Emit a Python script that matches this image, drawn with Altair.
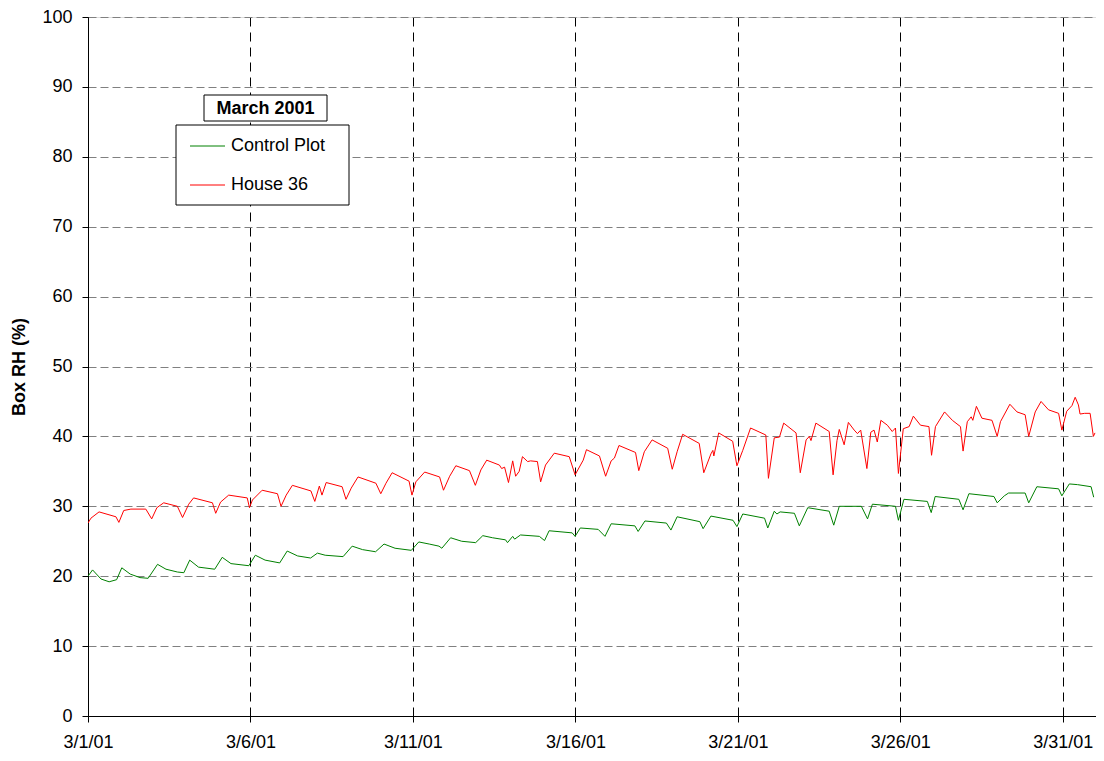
import altair as alt
import pandas as pd

# Day offsets from 3/1/01 00:00 and RH values (%)
green_day = [0.00, 0.14, 0.40, 0.65, 0.88, 1.04, 1.30, 1.60, 1.85, 2.14, 2.40, 2.75, 2.95,
             3.13, 3.40, 3.90, 4.13, 4.40, 4.95, 5.15, 5.45, 5.90, 6.13, 6.45, 6.85, 7.06,
             7.30, 7.85, 8.13, 8.45, 8.85, 9.11, 9.45, 9.95, 10.18, 10.50, 10.80, 10.89,
             11.16, 11.50, 11.93, 12.15, 12.45, 12.85, 12.91, 13.07, 13.13, 13.31, 13.89,
             14.05, 14.19, 14.90, 14.99, 15.15, 15.70, 15.91, 16.10, 16.83, 16.93, 17.14,
             17.80, 17.94, 18.13, 18.83, 18.93, 19.17, 19.85, 19.97, 20.15, 20.82, 20.92,
             21.12, 21.20, 21.30, 21.74, 21.89, 22.15, 22.81, 22.95, 23.12, 23.80, 23.99,
             24.14, 24.85, 24.94, 25.11, 25.83, 25.95, 26.07, 26.80, 26.93, 27.11, 27.88,
             27.98, 28.20, 28.33, 28.84, 28.95, 29.20, 29.87, 29.97, 30.20, 30.45, 30.87,
             30.95]
green_val = [20.0, 20.9, 19.6, 19.2, 19.5, 21.2, 20.3, 19.8, 19.7, 21.7, 21.0, 20.6, 20.5,
             22.3, 21.3, 21.0, 22.7, 21.8, 21.5, 23.0, 22.3, 21.9, 23.6, 22.9, 22.6, 23.3,
             23.0, 22.8, 24.3, 23.8, 23.5, 24.6, 24.0, 23.7, 24.9, 24.6, 24.3, 24.0,
             25.5, 25.0, 24.8, 25.8, 25.5, 25.2, 24.8, 25.7, 25.3, 25.9, 25.7,
             25.1, 26.5, 26.2, 25.7, 26.9, 26.7, 25.7, 27.5, 27.2, 26.4, 27.9,
             27.6, 26.6, 28.5, 27.8, 26.8, 28.6, 28.0, 27.1, 28.9, 28.3, 26.9,
             29.3, 28.9, 29.2, 29.0, 27.2, 29.8, 29.3, 27.3, 30.0, 30.0, 28.2,
             30.3, 30.0, 28.0, 31.0, 30.7, 29.1, 31.4, 31.0, 29.5, 31.8, 31.4,
             30.5, 31.5, 31.9, 31.9, 30.5, 32.8, 32.5, 31.5, 33.2, 33.1, 32.8,
             31.3]

red_day = [0.00, 0.09, 0.34, 0.86, 0.95, 1.10, 1.32, 1.78, 1.96, 2.12, 2.33, 2.75, 2.91,
           3.10, 3.25, 3.83, 3.93, 4.08, 4.33, 4.90, 4.97, 5.06, 5.36, 5.83, 5.94, 6.10,
           6.29, 6.86, 6.98, 7.12, 7.20, 7.33, 7.82, 7.94, 8.10, 8.31, 8.86, 9.01, 9.17,
           9.36, 9.88, 9.97, 10.09, 10.36, 10.82, 10.94, 11.13, 11.32, 11.74, 11.92, 12.09,
           12.27, 12.66, 12.73, 12.82, 12.94, 13.07, 13.16, 13.27, 13.37, 13.53, 13.62,
           13.83, 13.93, 14.08, 14.35, 14.81, 14.99, 15.24, 15.34, 15.74, 15.93, 16.10,
           16.20, 16.34, 16.85, 16.95, 17.12, 17.36, 17.84, 17.98, 18.13, 18.30, 18.81,
           18.95, 19.17, 19.23, 19.26, 19.41, 19.84, 19.97, 20.15, 20.39, 20.86, 20.94,
           21.12, 21.28, 21.41, 21.79, 21.92, 22.10, 22.20, 22.25, 22.40, 22.81, 22.93,
           23.05, 23.12, 23.27, 23.40, 23.58, 23.68, 23.78, 23.97, 24.09, 24.19, 24.29,
           24.40, 24.60, 24.75, 24.85, 24.94, 25.09, 25.27, 25.40, 25.62, 25.88, 25.96,
           26.08, 26.36, 26.60, 26.85, 26.93, 27.06, 27.18, 27.23, 27.34, 27.51, 27.82,
           27.98, 28.08, 28.37, 28.59, 28.84, 28.95, 29.15, 29.33, 29.56, 29.87, 29.97,
           30.12, 30.28, 30.38, 30.48, 30.53, 30.67, 30.84, 30.94, 30.99]
red_val = [27.6, 28.3, 29.2, 28.5, 27.7, 29.4, 29.6, 29.6, 28.2, 29.8, 30.5, 30.0, 28.4,
           30.3, 31.2, 30.5, 29.0, 30.6, 31.6, 31.2, 29.8, 30.9, 32.3, 31.8, 30.0, 31.6,
           33.0, 32.2, 30.7, 32.9, 31.6, 33.4, 32.8, 31.0, 32.6, 34.2, 33.3, 31.8, 33.3,
           34.8, 33.6, 31.6, 33.5, 34.9, 34.2, 32.3, 34.3, 35.8, 35.1, 33.0, 35.2,
           36.6, 35.9, 35.4, 35.6, 33.4, 36.5, 34.3, 35.0, 37.1, 36.4, 36.5,
           36.4, 33.5, 35.9, 37.6, 37.1, 34.5, 36.6, 38.1, 37.2, 34.3, 36.5,
           36.9, 38.7, 37.7, 35.1, 37.8, 39.5, 38.3, 35.3, 37.8, 40.3, 39.0,
           34.8, 37.5, 38.0, 37.2, 40.5, 39.3, 35.8, 38.0, 41.2, 40.2, 34.0,
           39.8, 39.9, 41.9, 40.5, 34.8, 39.5, 40.0, 39.4, 41.9, 40.7, 34.5,
           39.4, 41.0, 38.8, 42.0, 40.9, 40.4, 40.9, 35.4, 40.6, 40.9, 39.2,
           42.3, 41.6, 40.7, 41.2, 34.7, 41.1, 41.4, 42.9, 41.6, 41.4, 37.3,
           41.4, 43.5, 42.3, 41.4, 37.9, 42.1, 42.8, 42.3, 44.3, 42.6, 42.3,
           40.0, 42.1, 44.6, 43.5, 43.1, 40.0, 43.5, 45.0, 43.8, 43.3, 40.9,
           43.6, 44.4, 45.6, 44.5, 43.2, 43.3, 43.3, 40.0, 40.5]

series_names = ["Control Plot", "House 36"]
series_colors = ["#008000", "#FF0000"]
x_tick_days = [1, 6, 11, 16, 21, 26, 31]
y_ticks = list(range(0, 101, 10))
legend_title = "March 2001"

start = pd.Timestamp("2001-03-01 00:00:00")


def to_time(days):
    return [(start + pd.to_timedelta(d, unit="D")).strftime("%Y-%m-%dT%H:%M:%S") for d in days]


df = pd.concat([
    pd.DataFrame({"time": to_time(green_day), "rh": green_val, "series": series_names[0]}),
    pd.DataFrame({"time": to_time(red_day), "rh": red_val, "series": series_names[1]}),
])

FONT = "Liberation Sans"
FS = 18

lines = alt.Chart(df).mark_line(strokeWidth=1, clip=True).encode(
    x=alt.X(
        "time:T",
        scale=alt.Scale(domain=[alt.DateTime(year=2001, month=3, date=1),
                                alt.DateTime(year=2001, month=4, date=1, minutes=30)]),
        axis=alt.Axis(
            values=[alt.DateTime(year=2001, month=3, date=d) for d in x_tick_days],
            format="%-m/%-d/%y", title=None, labelFontSize=FS, labelFont=FONT,
            labelColor="black", tickColor="black", tickSize=6, domainColor="black",
            labelPadding=11, grid=True, gridColor="#000000", gridDash=[9, 6],
            gridWidth=1, labelFlush=False,
        ),
    ),
    y=alt.Y(
        "rh:Q",
        scale=alt.Scale(domain=[0, 100], nice=False),
        axis=alt.Axis(
            values=y_ticks, title="Box RH (%)", titleFontSize=FS, titleFont=FONT,
            titleFontWeight="bold", titleColor="black", titleX=-60, titleY=349.5,
            titleAlign="center", titleBaseline="bottom", titleAngle=270,
            labelFontSize=FS, labelFont=FONT, labelColor="black", tickColor="black",
            tickSize=6, domainColor="black", labelPadding=10, grid=True,
            gridColor="#808080", gridDash=[8, 4], gridWidth=1,
        ),
    ),
    color=alt.Color(
        "series:N",
        scale=alt.Scale(domain=series_names, range=series_colors),
        legend=None,
    ),
)

title_df = pd.DataFrame({"label": [legend_title]})
title_box = alt.Chart(title_df).mark_rect(fill="white", stroke="black", strokeWidth=1).encode(
    x=alt.value(116), x2=alt.value(239), y=alt.value(78), y2=alt.value(104)
)
title_text = alt.Chart(title_df).mark_text(
    fontSize=FS, font=FONT, fontWeight="bold", color="black",
    align="center", baseline="middle",
).encode(text="label:N", x=alt.value(177.5), y=alt.value(91.5))

# legend box with two entries
legend_box = alt.Chart(title_df).mark_rect(fill="white", stroke="black", strokeWidth=1).encode(
    x=alt.value(88), x2=alt.value(261), y=alt.value(108), y2=alt.value(188)
)
legend_layers = [legend_box]
for i, (name, col) in enumerate(zip(series_names, series_colors)):
    ypix = 129 + 39 * i
    sdf = pd.DataFrame({"series": [name]})
    legend_layers.append(
        alt.Chart(sdf).mark_rule(color=col, strokeWidth=1).encode(
            x=alt.value(102), x2=alt.value(137), y=alt.value(ypix)
        )
    )
    legend_layers.append(
        alt.Chart(sdf).mark_text(
            fontSize=FS, font=FONT, color="black", align="left", baseline="middle"
        ).encode(text="series:N", x=alt.value(143), y=alt.value(ypix))
    )

chart = alt.layer(lines, title_box, title_text, *legend_layers).properties(
    width=1008, height=699,
    autosize=alt.AutoSizeParams(type="none"),
    padding={"left": 80, "top": 9, "right": 0, "bottom": 37},
).configure_view(stroke="black", strokeWidth=1).configure(font=FONT, background="white")

chart.save("out.html", embed_options={"renderer": "svg", "actions": False})
